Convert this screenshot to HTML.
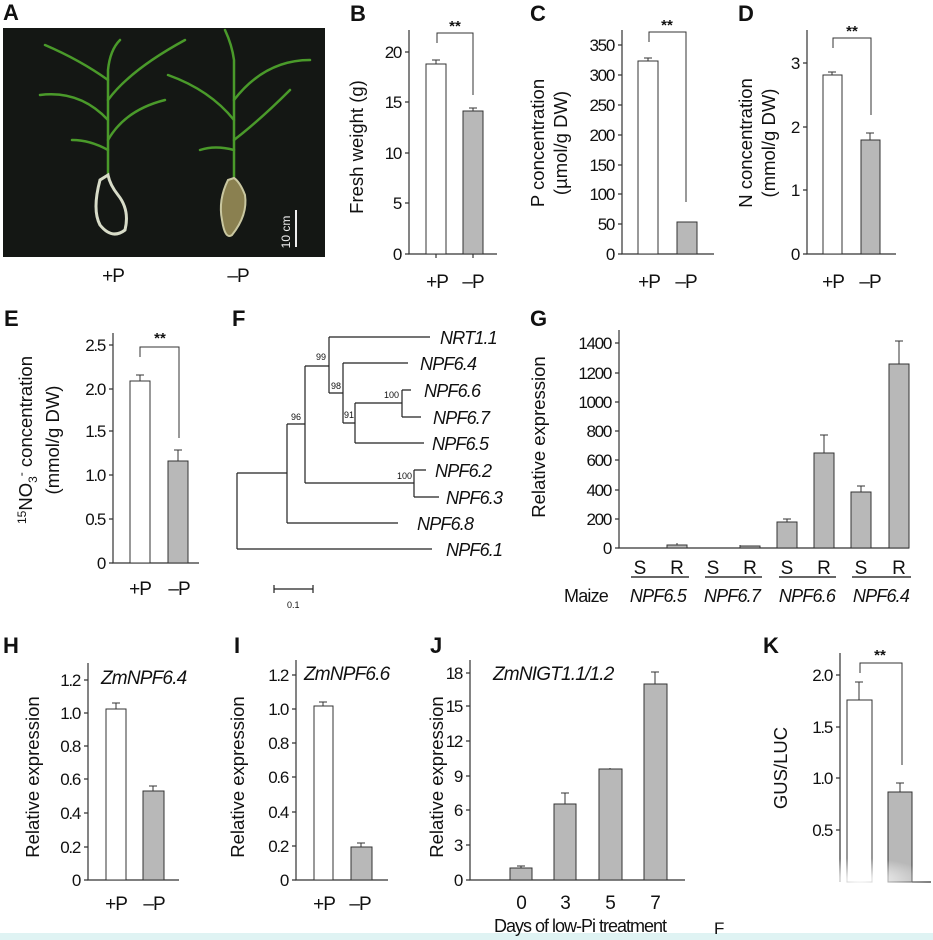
<!DOCTYPE html>
<html><head><meta charset="utf-8"><style>
html,body{margin:0;padding:0;background:#fff}
svg{display:block}
text{font-family:"Liberation Sans",sans-serif;fill:#111}
.t{font-size:17px;text-anchor:end;letter-spacing:-1.3px}
.x{font-size:19px;text-anchor:middle;letter-spacing:-1px}
.yl{font-size:18.5px;text-anchor:middle}
.pl{font-size:22px;font-weight:bold}
.it{font-style:italic;font-size:17px;letter-spacing:-0.8px}
.ax{stroke:#333;stroke-width:1.2;fill:none}
.w{fill:#fff;stroke:#333;stroke-width:1}
.g{fill:#b8b8b8;stroke:#333;stroke-width:1}
.e{stroke:#333;stroke-width:1;fill:none}
.tr{stroke:#222;stroke-width:1.2;fill:none}
</style></head><body>
<svg width="933" height="940" viewBox="0 0 933 940" xmlns="http://www.w3.org/2000/svg">
<rect x="0" y="933" width="933" height="7" fill="#dff3f3"/>
<!-- A -->
<text class="pl" x="3" y="20">A</text>
<rect x="3" y="28" width="322" height="229" fill="#141714"/>
<g stroke="#4a9a2a" stroke-width="2.5" fill="none" stroke-linecap="round">
<path d="M108 175 L108 70 Q110 50 120 40"/><path d="M108 120 Q80 90 40 95"/><path d="M108 100 Q130 70 185 40"/><path d="M108 140 Q125 110 165 100"/><path d="M108 80 Q80 60 45 45"/><path d="M108 150 Q90 140 72 140"/>
<path d="M234 178 L234 60 Q232 45 225 30"/><path d="M234 120 Q210 90 168 75"/><path d="M234 100 Q265 60 310 60"/><path d="M234 140 Q260 120 290 90"/><path d="M234 150 Q215 145 200 150"/>
</g>
<path d="M100 180 Q92 210 100 225 Q112 240 125 230 Q130 210 118 195 Q110 185 108 175Z" fill="none" stroke="#d8dcc8" stroke-width="3"/>
<path d="M228 180 Q218 200 222 220 Q225 240 232 235 Q248 215 245 195 Q240 182 234 178Z" fill="#8a8050" stroke="#c9c7a0" stroke-width="2"/>
<line x1="296" y1="210" x2="296" y2="247" stroke="#eee" stroke-width="2"/>
<text x="0" y="0" transform="translate(290,232) rotate(-90)" style="font-size:12px;fill:#eee;text-anchor:middle">10 cm</text>
<text class="x" x="113" y="282">+P</text><text class="x" x="238" y="282">–P</text>

<!-- B -->
<text class="pl" x="350" y="21">B</text>
<path class="ax" d="M409 30 V254 H497"/>
<g class="ax"><path d="M405 52H409M405 102H409M405 153H409M405 203H409M405 254H409M436 254V258M473 254V258"/></g>
<text class="t" x="401" y="58">20</text><text class="t" x="401" y="108">15</text><text class="t" x="401" y="159">10</text><text class="t" x="401" y="209">5</text><text class="t" x="401" y="260">0</text>
<rect class="w" x="426" y="64" width="20" height="190"/><rect class="g" x="463" y="111" width="20" height="143"/>
<path class="e" d="M436 64V60M432 60H440M473 111V108M469 108H477"/>
<path class="e" d="M437 43V33H473V95"/><text x="455" y="31" style="font-size:15px;text-anchor:middle;font-weight:bold">**</text>
<text class="yl" transform="translate(363,147) rotate(-90)">Fresh weight (g)</text>
<text class="x" x="437" y="288">+P</text><text class="x" x="473" y="288">–P</text>

<!-- C -->
<text class="pl" x="530" y="21">C</text>
<path class="ax" d="M622 30 V254 H714"/>
<g class="ax"><path d="M618 45H622M618 75H622M618 105H622M618 135H622M618 165H622M618 194H622M618 224H622M618 254H622"/></g>
<text class="t" x="614" y="51">350</text><text class="t" x="614" y="81">300</text><text class="t" x="614" y="111">250</text><text class="t" x="614" y="141">200</text><text class="t" x="614" y="171">150</text><text class="t" x="614" y="200">100</text><text class="t" x="614" y="230">50</text><text class="t" x="614" y="260">0</text>
<rect class="w" x="638" y="61" width="20" height="193"/><rect class="g" x="677" y="222" width="20" height="32"/>
<path class="e" d="M648 61V58M644 58H652"/>
<path class="e" d="M649 42V32H686V202"/><text x="667" y="30" style="font-size:15px;text-anchor:middle;font-weight:bold">**</text>
<text class="yl" transform="translate(544,143) rotate(-90)">P concentration</text>
<text class="yl" transform="translate(567,143) rotate(-90)">(µmol/g DW)</text>
<text class="x" x="649" y="288">+P</text><text class="x" x="686" y="288">–P</text>

<!-- D -->
<text class="pl" x="738" y="21">D</text>
<path class="ax" d="M807 30 V254 H896"/>
<g class="ax"><path d="M803 63H807M803 127H807M803 190H807M803 254H807"/></g>
<text class="t" x="799" y="69">3</text><text class="t" x="799" y="133">2</text><text class="t" x="799" y="196">1</text><text class="t" x="799" y="260">0</text>
<rect class="w" x="823" y="75" width="19" height="179"/><rect class="g" x="861" y="140" width="19" height="114"/>
<path class="e" d="M832 75V72M828 72H836M870 140V133M866 133H874"/>
<path class="e" d="M833 48V38H871V115"/><text x="852" y="36" style="font-size:15px;text-anchor:middle;font-weight:bold">**</text>
<text class="yl" transform="translate(752,143) rotate(-90)">N concentration</text>
<text class="yl" transform="translate(775,143) rotate(-90)">(mmol/g DW)</text>
<text class="x" x="833" y="288">+P</text><text class="x" x="870" y="288">–P</text>

<!-- E -->
<text class="pl" x="4" y="326">E</text>
<path class="ax" d="M113 333 V563 H199"/>
<g class="ax"><path d="M109 345H113M109 389H113M109 431H113M109 475H113M109 519H113M109 563H113"/></g>
<text class="t" x="105" y="351">2.5</text><text class="t" x="105" y="395">2.0</text><text class="t" x="105" y="437">1.5</text><text class="t" x="105" y="481">1.0</text><text class="t" x="105" y="525">0.5</text><text class="t" x="105" y="569">0</text>
<rect class="w" x="130" y="381" width="20" height="182"/><rect class="g" x="168" y="461" width="20" height="102"/>
<path class="e" d="M140 381V375M136 375H144M178 461V450M174 450H182"/>
<path class="e" d="M140 357V347H179V438"/><text x="160" y="343" style="font-size:15px;text-anchor:middle;font-weight:bold">**</text>
<text class="yl" transform="translate(32,440) rotate(-90)"><tspan style="font-size:12px" dy="-6">15</tspan><tspan dy="6">NO</tspan><tspan style="font-size:12px" dy="5">3</tspan><tspan style="font-size:12px" dy="-12">-</tspan><tspan dy="7"> concentration</tspan></text>
<text class="yl" transform="translate(59,440) rotate(-90)">(mmol/g DW)</text>
<text class="x" x="140" y="595">+P</text><text class="x" x="179" y="595">–P</text>

<!-- F -->
<text class="pl" x="232" y="326">F</text>
<g class="tr">
<path d="M237 473V549M237 549H432M237 473H287"/>
<path d="M287 424V523M287 523H398M287 424H305"/>
<path d="M305 366V483M305 483H414M414 470V497M414 470H426M414 497H439M305 366H329"/>
<path d="M329 337V393M329 337H430M329 393H343"/>
<path d="M343 363V423M343 363H408M343 423H355"/>
<path d="M355 403V443M355 443H424M355 403H402M402 390V417M402 390H411M402 417H421"/>
<path d="M274 589H313M274 585V593M313 585V593"/>
</g>
<g style="font-size:9px">
<text x="291" y="420">96</text><text x="316" y="360">99</text><text x="331" y="389">98</text><text x="344" y="418">91</text><text x="384" y="398">100</text><text x="397" y="479">100</text>
<text x="287" y="608">0.1</text></g>
<g class="it" style="font-size:18px"><text x="440" y="344">NRT1.1</text><text x="420" y="370">NPF6.4</text><text x="424" y="397">NPF6.6</text><text x="433" y="424">NPF6.7</text><text x="432" y="450">NPF6.5</text><text x="435" y="477">NPF6.2</text><text x="446" y="504">NPF6.3</text><text x="417" y="530">NPF6.8</text><text x="446" y="556">NPF6.1</text></g>

<!-- G -->
<text class="pl" x="530" y="326">G</text>
<path class="ax" d="M619 330 V548 H909"/>
<g class="ax"><path d="M615 343H619M615 373H619M615 402H619M615 431H619M615 460H619M615 490H619M615 519H619M615 548H619"/></g>
<text class="t" x="611" y="349">1400</text><text class="t" x="611" y="379">1200</text><text class="t" x="611" y="408">1000</text><text class="t" x="611" y="437">800</text><text class="t" x="611" y="466">600</text><text class="t" x="611" y="496">400</text><text class="t" x="611" y="525">200</text><text class="t" x="611" y="554">0</text>
<rect class="g" x="667" y="545" width="20" height="3"/><rect class="g" x="740" y="546" width="20" height="2"/>
<rect class="g" x="777" y="522" width="20" height="26"/><rect class="g" x="814" y="453" width="20" height="95"/>
<rect class="g" x="851" y="492" width="20" height="56"/><rect class="g" x="889" y="364" width="20" height="184"/>
<path class="e" d="M787 522V519M783 519H791M824 453V435M820 435H828M861 492V486M857 486H865M899 364V341M895 341H903M677 545V543M740 546V545"/>
<g style="font-size:19px;text-anchor:middle"><text x="640" y="574">S</text><text x="677" y="574">R</text><text x="713" y="574">S</text><text x="750" y="574">R</text><text x="787" y="574">S</text><text x="824" y="574">R</text><text x="861" y="574">S</text><text x="899" y="574">R</text></g>
<path class="e" style="stroke-width:1.5" d="M631 577H689M705 577H762M779 577H836M852 577H911"/>
<text x="564" y="602" style="font-size:18px;letter-spacing:-0.8px">Maize</text>
<g class="it" style="text-anchor:middle;font-size:18px"><text x="658" y="602">NPF6.5</text><text x="732" y="602">NPF6.7</text><text x="807" y="602">NPF6.6</text><text x="881" y="602">NPF6.4</text></g>
<text class="yl" transform="translate(545,437) rotate(-90)">Relative expression</text>

<!-- H -->
<text class="pl" x="3" y="653">H</text>
<path class="ax" d="M88 663 V880 H179"/>
<g class="ax"><path d="M84 680H88M84 713H88M84 746H88M84 779H88M84 813H88M84 847H88M84 880H88"/></g>
<text class="t" x="80" y="686">1.2</text><text class="t" x="80" y="719">1.0</text><text class="t" x="80" y="752">0.8</text><text class="t" x="80" y="785">0.6</text><text class="t" x="80" y="819">0.4</text><text class="t" x="80" y="853">0.2</text><text class="t" x="80" y="886">0</text>
<rect class="w" x="106" y="709" width="20" height="171"/><rect class="g" x="143" y="791" width="21" height="89"/>
<path class="e" d="M116 709V703M112 703H120M153 791V786M149 786H157"/>
<text class="it" x="101" y="684" style="font-size:19px">ZmNPF6.4</text>
<text class="yl" transform="translate(39,777) rotate(-90)">Relative expression</text>
<text class="x" x="116" y="910">+P</text><text class="x" x="154" y="910">–P</text>

<!-- I -->
<text class="pl" x="234" y="653">I</text>
<path class="ax" d="M296 660 V880 H388"/>
<g class="ax"><path d="M292 675H296M292 709H296M292 743H296M292 777H296M292 812H296M292 846H296M292 880H296"/></g>
<text class="t" x="288" y="681">1.2</text><text class="t" x="288" y="715">1.0</text><text class="t" x="288" y="749">0.8</text><text class="t" x="288" y="783">0.6</text><text class="t" x="288" y="818">0.4</text><text class="t" x="288" y="852">0.2</text><text class="t" x="288" y="886">0</text>
<rect class="w" x="314" y="706" width="19" height="174"/><rect class="g" x="351" y="847" width="21" height="33"/>
<path class="e" d="M323 706V702M319 702H327M361 847V843M357 843H365"/>
<text class="it" x="304" y="680" style="font-size:19px">ZmNPF6.6</text>
<text class="yl" transform="translate(244,777) rotate(-90)">Relative expression</text>
<text class="x" x="324" y="910">+P</text><text class="x" x="360" y="910">–P</text>

<!-- J -->
<text class="pl" x="430" y="653">J</text>
<path class="ax" d="M470 660 V880 H685"/>
<g class="ax"><path d="M466 673H470M466 706H470M466 741H470M466 776H470M466 810H470M466 845H470M466 880H470"/></g>
<text class="t" x="462" y="679">18</text><text class="t" x="462" y="712">15</text><text class="t" x="462" y="747">12</text><text class="t" x="462" y="782">9</text><text class="t" x="462" y="816">6</text><text class="t" x="462" y="851">3</text><text class="t" x="462" y="886">0</text>
<rect class="g" x="510" y="868" width="22" height="12"/><rect class="g" x="554" y="804" width="22" height="76"/>
<rect class="g" x="599" y="769" width="23" height="111"/><rect class="g" x="644" y="684" width="23" height="196"/>
<path class="e" d="M521 868V866M517 866H525M565 804V793M561 793H569M610 769V768M655 684V672M651 672H659"/>
<text class="it" x="493" y="680" style="font-size:19px">ZmNIGT1.1/1.2</text>
<text class="yl" transform="translate(443,777) rotate(-90)">Relative expression</text>
<g class="x"><text x="521" y="909">0</text><text x="565" y="909">3</text><text x="610" y="909">5</text><text x="655" y="909">7</text></g>
<text x="580" y="932" style="font-size:18px;text-anchor:middle;letter-spacing:-1px">Days of low-Pi treatment</text>
<text x="714" y="934" style="font-size:17px">F</text>

<!-- K -->
<text class="pl" x="763" y="653">K</text>
<path class="ax" d="M840 653 V882"/>
<g class="ax"><path d="M836 675H840M836 727H840M836 778H840M836 830H840M912 882H931"/></g>
<text class="t" x="832" y="681">2.0</text><text class="t" x="832" y="733">1.5</text><text class="t" x="832" y="784">1.0</text><text class="t" x="832" y="836">0.5</text>
<rect class="w" x="847" y="700" width="25" height="182"/><rect class="g" x="888" y="792" width="24" height="90"/>
<path class="e" d="M859 700V682M855 682H863M900 792V783M896 783H904"/>
<path class="e" d="M860 673V663H902V765"/><text x="880" y="660" style="font-size:15px;text-anchor:middle;font-weight:bold">**</text>
<text class="yl" transform="translate(787,768) rotate(-90)">GUS/LUC</text>
<defs><radialGradient id="rg"><stop offset="0" stop-color="#fff" stop-opacity="1"/><stop offset="1" stop-color="#fff" stop-opacity="0"/></radialGradient></defs>
<ellipse cx="860" cy="880" rx="70" ry="22" fill="url(#rg)"/>
</svg>
</body></html>
